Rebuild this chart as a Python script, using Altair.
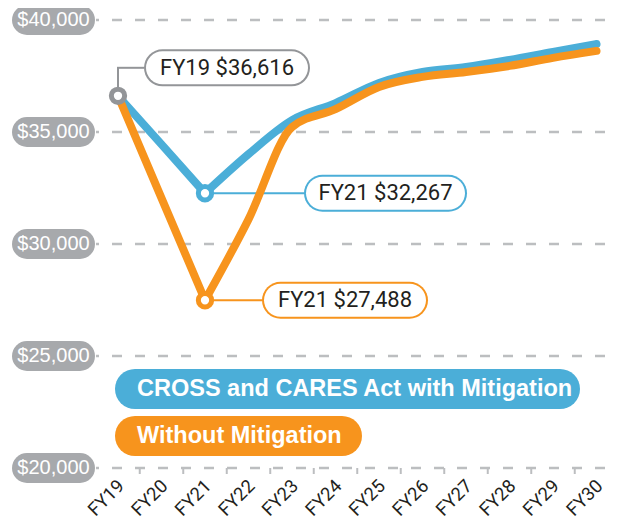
import altair as alt
import pandas as pd

# ---------------- data ----------------
years = ["FY19", "FY20", "FY21", "FY22", "FY23", "FY24",
         "FY25", "FY26", "FY27", "FY28", "FY29", "FY30"]
year_num = [19, 20, 21, 22, 23, 24, 25, 26, 27, 28, 29, 30]
with_mitigation = [36616, 34450, 32267, 34010, 35530, 36290,
                   37190, 37680, 37900, 38220, 38580, 38930]
without_mitigation = [36616, 32050, 27488, 31100, 35220, 36020,
                      37010, 37460, 37680, 37950, 38310, 38620]
y_ticks = [40000, 35000, 30000, 25000, 20000]
legend_labels = ["CROSS and CARES Act with Mitigation", "Without Mitigation"]
callout_text = ["FY19 $36,616", "FY21 $32,267", "FY21 $27,488"]

# ---------------- style ----------------
BLUE = "#4BAED8"
ORANGE = "#F7941D"
GREY = "#939598"
GRID = "#BCBEC0"
PILL = "#A7A9AC"
INK = "#231F20"
DIN = "Roboto, Liberation Sans, sans-serif"
SANS = "Liberation Sans, Arial, sans-serif"

W, H = 604, 513
XS = alt.Scale(domain=[16.4713, 30.3563], nice=False, zero=False)
YS = alt.Scale(domain=[17634, 40536], nice=False, zero=False)


def X(field=None, datum=None):
    if datum is not None:
        return alt.X(datum=datum, type="quantitative", scale=XS, axis=None)
    return alt.X(field, type="quantitative", scale=XS, axis=None)


def Y(field=None, datum=None):
    if datum is not None:
        return alt.Y(datum=datum, type="quantitative", scale=YS, axis=None)
    return alt.Y(field, type="quantitative", scale=YS, axis=None)


df = pd.DataFrame({"year": year_num, "label": years,
                   "with": with_mitigation, "without": without_mitigation})
ticks_df = pd.DataFrame({"val": y_ticks})
mid_df = pd.DataFrame({"pos": [v + 0.5 for v in year_num]})

layers = []

# gridlines
layers.append(
    alt.Chart(ticks_df).mark_rule(color=GRID, strokeWidth=2.5, strokeDash=[10, 13],
                                  strokeDashOffset=7)
    .encode(y=Y("val"), x=alt.value(88), x2=alt.value(W))
)
# small ticks below the base line
layers.append(
    alt.Chart(mid_df).mark_rule(color=GRID, strokeWidth=2, y2Offset=6)
    .encode(x=X("pos"), y=Y(datum=y_ticks[-1]), y2=alt.Y2(datum=y_ticks[-1]))
)
# y-axis pills
layers.append(
    alt.Chart(ticks_df).mark_rule(color=PILL, strokeWidth=30, strokeCap="round")
    .encode(y=Y("val"), x=alt.value(19), x2=alt.value(72))
)
layers.append(
    alt.Chart(ticks_df).mark_text(color="white", font=SANS, fontSize=20,
                                  align="center", baseline="middle")
    .encode(y=Y("val"), x=alt.value(45.5), text=alt.Text("val:Q", format="$,.0f"))
)

# callouts: (year, value, colour, box left/right offset, dy, text centre offset)
callouts = [
    (year_num[0], with_mitigation[0], GREY, 26, 192, -28, 109),
    (year_num[2], with_mitigation[2], BLUE, 99, 262, 0, 180.5),
    (year_num[2], without_mitigation[2], ORANGE, 57, 223, 0, 140),
]

# connectors
c0 = callouts[0]
layers.append(
    alt.Chart(df.head(1)).mark_rule(color=GREY, strokeWidth=2, yOffset=-8, y2Offset=c0[5])
    .encode(x=X(datum=c0[0]), y=Y(datum=c0[1]), y2=alt.Y2(datum=c0[1]))
)
layers.append(
    alt.Chart(df.head(1)).mark_rule(color=GREY, strokeWidth=2, yOffset=c0[5],
                                     xOffset=-1, x2Offset=c0[3])
    .encode(x=X(datum=c0[0]), x2=alt.X2(datum=c0[0]), y=Y(datum=c0[1]))
)
for (yr, val, col, bl, br, dy, tc) in callouts[1:]:
    layers.append(
        alt.Chart(df.head(1)).mark_rule(color=col, strokeWidth=2, x2Offset=bl)
        .encode(x=X(datum=yr), x2=alt.X2(datum=yr), y=Y(datum=val))
    )

# lines: straight drop FY19-FY21, smooth recovery afterwards
first = df[df["year"] <= 21]
rest = df[df["year"] >= 21]
for field, col in [("with", BLUE), ("without", ORANGE)]:
    layers.append(
        alt.Chart(first).mark_line(color=col, strokeWidth=8, strokeCap="round",
                                   strokeJoin="round")
        .encode(x=X("year"), y=Y(field))
    )
    layers.append(
        alt.Chart(rest).mark_line(color=col, strokeWidth=8, strokeCap="round",
                                  strokeJoin="round", interpolate="monotone")
        .encode(x=X("year"), y=Y(field))
    )

# marker circles
for (yr, val, col, bl, br, dy, tc) in callouts:
    layers.append(
        alt.Chart(df.head(1)).mark_point(shape="circle", filled=True, fill="white",
                                         stroke=col, strokeWidth=5, size=177, opacity=1)
        .encode(x=X(datum=yr), y=Y(datum=val))
    )

# callout boxes + text
for (yr, val, col, bl, br, dy, tc), txt in zip(callouts, callout_text):
    layers.append(
        alt.Chart(df.head(1)).mark_rule(color=col, strokeWidth=37, strokeCap="round",
                                         xOffset=bl + 18.5, x2Offset=br - 18.5, yOffset=dy)
        .encode(x=X(datum=yr), x2=alt.X2(datum=yr), y=Y(datum=val))
    )
    layers.append(
        alt.Chart(df.head(1)).mark_rule(color="white", strokeWidth=33, strokeCap="round",
                                         xOffset=bl + 18.5, x2Offset=br - 18.5, yOffset=dy)
        .encode(x=X(datum=yr), x2=alt.X2(datum=yr), y=Y(datum=val))
    )
    layers.append(
        alt.Chart(df.head(1)).mark_text(font=DIN, fontSize=22, color=INK,
                                        align="center", baseline="middle",
                                        xOffset=tc, yOffset=dy)
        .encode(x=X(datum=yr), y=Y(datum=val), text=alt.value(txt))
    )

# legend pills
for lab, col, ypix, xr in [(legend_labels[0], BLUE, 381, 552),
                           (legend_labels[1], ORANGE, 428, 334)]:
    layers.append(
        alt.Chart(df.head(1)).mark_rule(color=col, strokeWidth=40, strokeCap="round")
        .encode(x=alt.value(127), x2=alt.value(xr), y=alt.value(ypix))
    )
    layers.append(
        alt.Chart(df.head(1)).mark_text(font=SANS, fontWeight="bold", fontSize=23.5,
                                        color="white", align="left", baseline="middle")
        .encode(x=alt.value(129), y=alt.value(ypix), text=alt.value(lab))
    )

# x labels
layers.append(
    alt.Chart(df).mark_text(font=DIN, fontSize=18.5, color=INK, angle=315,
                            align="right", baseline="middle", xOffset=3, yOffset=15)
    .encode(x=X("year"), y=Y(datum=y_ticks[-1]), text="label:N")
)

chart = (
    alt.layer(*layers)
    .properties(width=W, height=H, padding=0, autosize=alt.AutoSizeParams(type="none"))
    .configure_view(stroke=None)
)

chart.save("out.html", embed_options={"renderer": "svg", "actions": False})
